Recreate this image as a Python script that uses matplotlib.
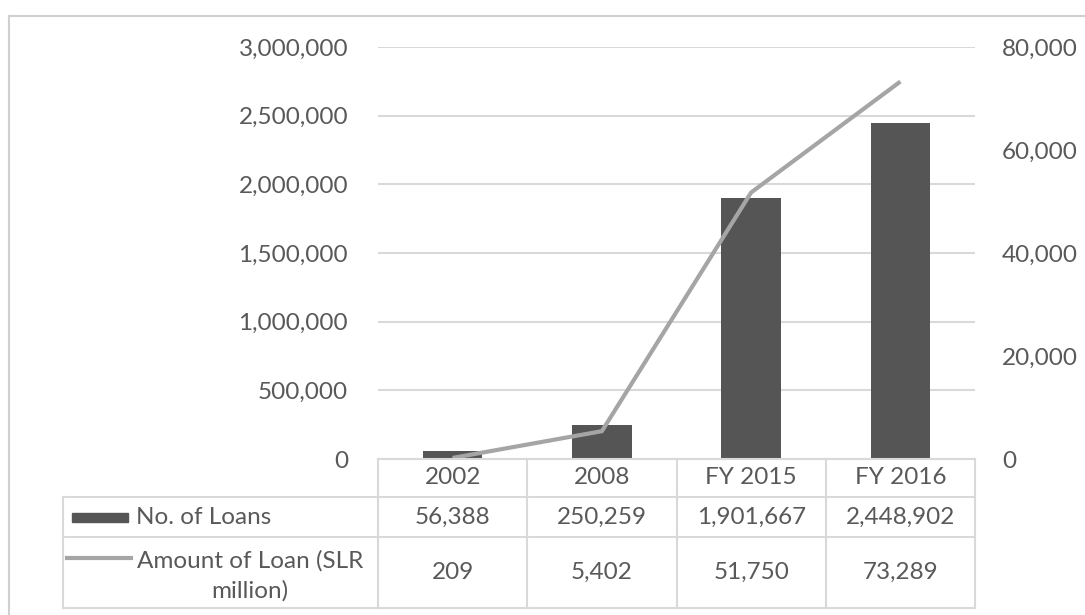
import matplotlib
matplotlib.use("Agg")
import matplotlib.pyplot as plt
from matplotlib.lines import Line2D
from matplotlib.patches import Rectangle
from matplotlib.ticker import FuncFormatter
import matplotlib.transforms as mtrans

categories = ["2002", "2008", "FY 2015", "FY 2016"]
no_of_loans = [56388, 250259, 1901667, 2448902]
amount_of_loan = [209, 5402, 51750, 73289]
series_labels = ["No. of Loans", "Amount of Loan (SLR\nmillion)"]
left_ticks = [0, 500000, 1000000, 1500000, 2000000, 2500000, 3000000]
right_ticks = [0, 20000, 40000, 60000, 80000]

TXT = "#595959"
GRID = "#d9d9d9"
BAR = "#555555"
LINE = "#a5a5a5"
FONT = "Lato"
FS = 17.5

W, H = 1085, 615
fig = plt.figure(figsize=(W / 100, H / 100), dpi=100)
plt.rcParams['font.family'] = [FONT, 'DejaVu Sans']

def fx(px):
    return px / W

def fy(py):
    return 1 - py / H

ax = fig.add_axes([fx(378), fy(459), fx(975) - fx(378), fy(47) - fy(459)])
x = list(range(len(categories)))
ax.bar(x, no_of_loans, width=0.4, color=BAR, zorder=2)
ax.set_xlim(-0.5, len(categories) - 0.5)
ax.set_ylim(0, 3000000)
ax.set_yticks(left_ticks)
ax.yaxis.set_major_formatter(FuncFormatter(lambda v, p: f"{int(v):,}"))
ax.grid(axis='y', color=GRID, linewidth=1.5, zorder=0)
ax.set_xticks([])
for s in ax.spines.values():
    s.set_visible(False)
ax.tick_params(axis='y', length=0, pad=21.5, labelsize=FS, labelcolor=TXT)

ax2 = ax.twinx()
ax2.plot(x, amount_of_loan, color=LINE, linewidth=3, zorder=3, solid_capstyle='butt')
ax2.set_ylim(0, 80000)
ax2.set_yticks(right_ticks)
ax2.yaxis.set_major_formatter(FuncFormatter(lambda v, p: f"{int(v):,}"))
for s in ax2.spines.values():
    s.set_visible(False)
ax2.tick_params(axis='y', length=0, pad=19.5, labelsize=FS, labelcolor=TXT)

# Data table
rows_px = [459, 497, 537, 608]
col_edges = [-0.5 + i for i in range(len(categories) + 1)]
tr = mtrans.blended_transform_factory(ax.transData, fig.transFigure)

for ypx in rows_px:
    fig.add_artist(Line2D([col_edges[0], col_edges[-1]], [fy(ypx), fy(ypx)], transform=tr,
                          color=GRID, linewidth=1.5, clip_on=False))
for ce in col_edges:
    fig.add_artist(Line2D([ce, ce], [fy(rows_px[0]), fy(rows_px[-1])], transform=tr,
                          color=GRID, linewidth=1.5, clip_on=False))
for ypx in rows_px[1:]:
    fig.add_artist(Line2D([fx(63), fx(378)], [fy(ypx), fy(ypx)], transform=fig.transFigure,
                          color=GRID, linewidth=1.5, clip_on=False))
fig.add_artist(Line2D([fx(63), fx(63)], [fy(rows_px[1]), fy(rows_px[-1])], transform=fig.transFigure,
                      color=GRID, linewidth=1.5, clip_on=False))

for i, c in enumerate(categories):
    fig.text(i, fy((rows_px[0] + rows_px[1]) / 2), c, transform=tr, ha='center', va='center',
             fontsize=FS, color=TXT)
    fig.text(i, fy((rows_px[1] + rows_px[2]) / 2), f"{no_of_loans[i]:,}", transform=tr,
             ha='center', va='center', fontsize=FS, color=TXT)
    fig.text(i, fy((rows_px[2] + rows_px[3]) / 2), f"{amount_of_loan[i]:,}", transform=tr,
             ha='center', va='center', fontsize=FS, color=TXT)

# legend keys
fig.add_artist(Rectangle((fx(72), fy(522)), fx(128) - fx(72), fy(513) - fy(522),
                         transform=fig.transFigure, color=BAR, clip_on=False))
fig.add_artist(Line2D([fx(67), fx(131)], [fy(558), fy(558)], transform=fig.transFigure,
                      color=LINE, linewidth=3, clip_on=False))
fig.text(fx(136), fy(517), series_labels[0], ha='left', va='center', fontsize=FS, color=TXT)
fig.text(fx(250), fy(576), series_labels[1], ha='center', va='center', fontsize=FS, color=TXT,
         multialignment='center', linespacing=1.45)

# chart border (left/top)
fig.add_artist(Line2D([fx(9), fx(9)], [fy(16), 0], transform=fig.transFigure,
                      color="#d0d0d0", linewidth=1.5))
fig.add_artist(Line2D([fx(9), 1], [fy(16), fy(16)], transform=fig.transFigure,
                      color="#d0d0d0", linewidth=1.5))

fig.savefig("out.png", dpi=100)
